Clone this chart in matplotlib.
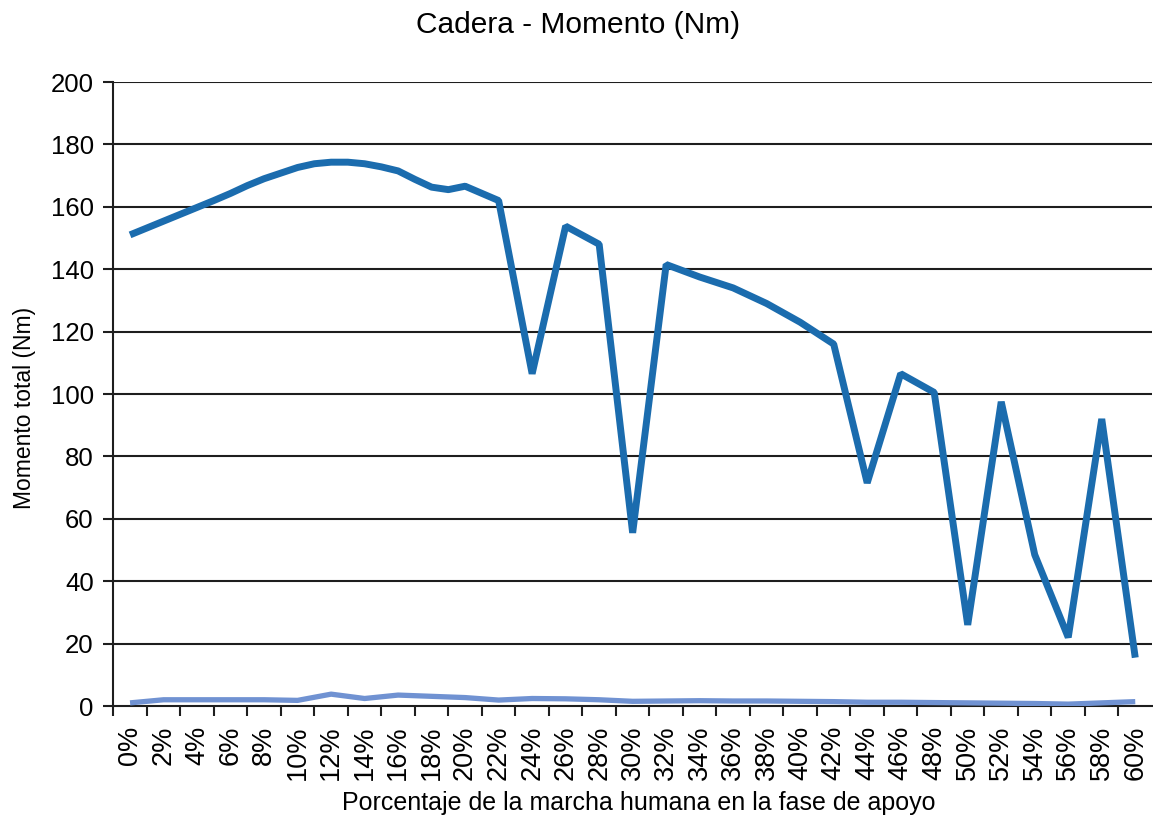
import matplotlib
matplotlib.use("Agg")
import matplotlib.pyplot as plt
import numpy as np

plt.rcParams['font.family'] = ['Liberation Sans', 'DejaVu Sans']

# Main series (x in % of stance phase, value in Nm)
main_x = [0, 1, 2, 3, 4, 5, 6, 7, 8, 9, 10, 11, 12, 13, 14, 15, 16, 17, 18, 19, 20, 21, 22,
          24, 26, 28, 30, 32, 34, 36, 38, 40, 42, 44, 46, 48, 50, 52, 54, 56, 58, 60]
main_y = [151.0, 153.2, 155.4, 157.6, 159.8, 162.0, 164.3, 166.8, 169.0, 170.8, 172.6, 173.8,
          174.3, 174.3, 173.8, 172.8, 171.5, 168.8, 166.3, 165.5, 166.6, 164.3, 162.0,
          106.5, 153.8, 148.0, 55.5, 141.5, 137.5, 134.0, 129.0, 123.0, 116.0, 71.5,
          106.5, 100.5, 26.0, 97.5, 48.5, 22.0, 92.0, 15.5]

# Secondary series
low_x = [0, 2, 4, 6, 8, 10, 12, 14, 16, 18, 20, 22, 24, 26, 28, 30, 32, 34, 36, 38, 40,
         42, 44, 46, 48, 50, 52, 54, 56, 58, 60]
low_y = [1.0, 2.0, 2.0, 2.0, 2.0, 1.8, 3.8, 2.4, 3.5, 3.1, 2.7, 1.9, 2.4, 2.3, 2.0, 1.5,
         1.6, 1.7, 1.6, 1.6, 1.5, 1.4, 1.2, 1.2, 1.1, 1.0, 0.9, 0.8, 0.6, 1.0, 1.4]

categories = list(range(0, 61, 2))
cat_labels = [f"{c}%" for c in categories]
yticks = list(range(0, 201, 20))

title = "Cadera - Momento (Nm)"
xlabel = "Porcentaje de la marcha humana en la fase de apoyo"
ylabel = "Momento total (Nm)"

fig = plt.figure(figsize=(11.53, 8.18), dpi=100)
ax = fig.add_axes([113.3 / 1153, 1 - 706 / 818, (1152 - 113.3) / 1153, (706 - 82) / 818])

for y in yticks[1:]:
    ax.axhline(y, color='#1e1e1e', lw=1.5, zorder=1)

ax.plot(low_x, low_y, color='#7092d2', lw=3.8, solid_joinstyle='round',
        solid_capstyle='butt', zorder=3)
ax.plot(main_x, main_y, color='#1b6cae', lw=5.0, solid_joinstyle='bevel',
        solid_capstyle='butt', zorder=4)

ax.set_xlim(-1, 61)
ax.set_ylim(0, 200)

ax.set_xticks(categories)
ax.set_xticklabels(cat_labels, rotation=90, fontsize=19.5)
ax.set_xticks([c - 1 for c in categories], minor=True)
ax.tick_params(axis='x', which='major', length=0, pad=14)
ax.tick_params(axis='x', which='minor', length=7, width=1.5, color='#1e1e1e', direction='out')

ax.set_yticks(yticks)
ax.set_yticklabels([str(v) for v in yticks], fontsize=18.5)
ax.tick_params(axis='y', length=7, width=1.5, color='#1e1e1e', pad=7)

for s in ['top', 'right']:
    ax.spines[s].set_visible(False)
ax.spines['left'].set_color('#1e1e1e')
ax.spines['left'].set_linewidth(1.5)
ax.spines['bottom'].set_color('#1e1e1e')
ax.spines['bottom'].set_linewidth(1.5)

fig.text(578 / 1153, 1 - 25 / 818, title, ha='center', va='center', fontsize=21.5)
fig.text(639 / 1153, 1 - 803 / 818, xlabel, ha='center', va='center', fontsize=18)
fig.text(25 / 1153, 1 - 408 / 818, ylabel, ha='center', va='center', rotation=90, fontsize=16.5)

fig.savefig("out.png", dpi=100)
